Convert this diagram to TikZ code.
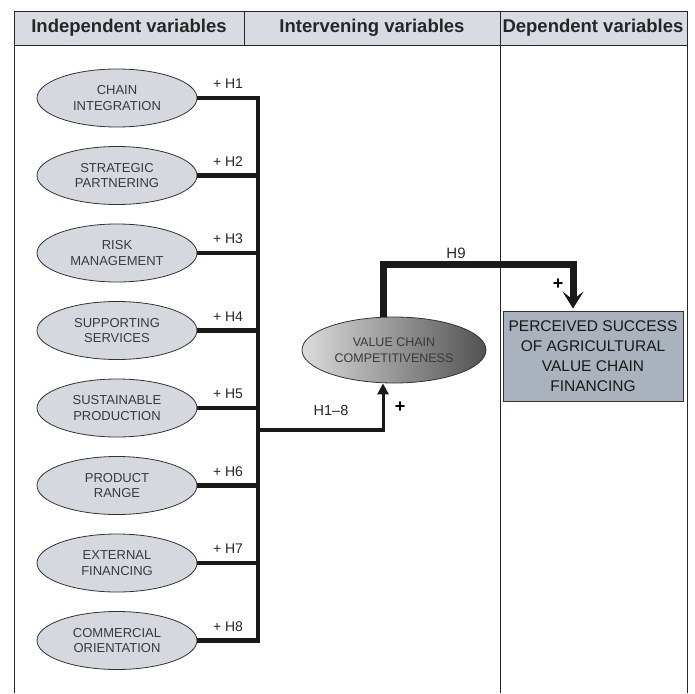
\documentclass[tikz,border=0pt]{standalone}
\usepackage{fontspec}
\setmainfont{Liberation Sans}
\usetikzlibrary{shapes.geometric,arrows.meta}
\definecolor{headgray}{HTML}{D8DBE2}
\definecolor{ovalgray}{HTML}{D5D8DF}
\definecolor{boxgray}{HTML}{A9B2BD}
\definecolor{inkgray}{HTML}{3A3A3A}
\tikzset{
  rule/.style={line width=0.9pt,black!85},
  head/.style={font=\fontsize{18.5}{20}\selectfont\bfseries,text=black!85,inner sep=0pt},
  indep/.style={ellipse,draw=black!80,line width=0.8pt,fill=ovalgray,minimum width=160pt,
    minimum height=58pt,inner sep=0pt,align=center,text=inkgray,font=\fontsize{13}{15.5}\selectfont},
  hyp/.style={font=\fontsize{14}{16}\selectfont,text=black!85,inner sep=0pt},
  plus/.style={font=\fontsize{18}{18}\selectfont\bfseries,inner sep=0pt},
  bus/.style={line width=4.5pt,black!90},
}
\begin{document}
\begin{tikzpicture}[x=1pt,y=-1pt]
  \useasboundingbox (0,0) rectangle (695,693);
  % table frame
  \fill[headgray] (14,11) rectangle (687,45);
  \draw[rule] (14,693) -- (14,11) -- (687,11) -- (687,693);
  \draw[rule] (14,45) -- (687,45);
  \draw[rule] (244,11) -- (244,45);
  \draw[rule] (500,11) -- (500,693);
  \node[head] (hind) at (129,28) {Independent variables};
  \node[head] (hint) at (372,28) {Intervening variables};
  \node[head] (hdep) at (593,28) {Dependent variables};
  % independent variables
  \foreach \txt [count=\i] in {{CHAIN\\INTEGRATION},{STRATEGIC\\PARTNERING},{RISK\\MANAGEMENT},
      {SUPPORTING\\SERVICES},{SUSTAINABLE\\PRODUCTION},{PRODUCT\\RANGE},
      {EXTERNAL\\FINANCING},{COMMERCIAL\\ORIENTATION}} {
    \node[indep] (e\i) at (117,{98+77.5*(\i-1)}) {\txt};
    \node[hyp] (h\i) at (228,{84+77.5*(\i-1)}) {+ H\i};
  }
  \coordinate (bt) at (258,98);
  \coordinate (bb) at (258,640.5);
  \draw[bus] (e1.east) -- (bt) -- (bb) -- (e8.east);
  \foreach \i in {2,...,7}
    \draw[bus] (e\i.east) -- (e\i.east -| bt);
  % intervening and dependent
  \node[ellipse,draw=black!80,line width=0.8pt,left color=black!14,middle color=black!4,right color=black!68,
    minimum width=184pt,minimum height=66pt,inner sep=0pt,align=center,text=inkgray,
    font=\fontsize{12.5}{16}\selectfont] (vcc) at (394,350) {VALUE CHAIN\\COMPETITIVENESS};
  \node[draw=black!80,line width=0.9pt,fill=boxgray,minimum width=180pt,minimum height=90pt,
    inner sep=0pt,align=center,text=black!90,font=\fontsize{15.5}{20}\selectfont] (dep) at (593,356)
    {PERCEIVED SUCCESS\\OF AGRICULTURAL\\VALUE CHAIN\\FINANCING};
  \coordinate (j) at (258,430);
  \coordinate (k) at (383,430);
  \draw[bus] (j) -- (k);
  \draw[line width=3pt,black!90,-{Triangle[length=11pt,width=11pt]}] ([yshift=-2.2pt]k) -- ([xshift=-11pt]vcc.south);
  \node[hyp,font=\fontsize{14.5}{16}\selectfont] (l18) at (331,411) {H1–8};
  \node[plus] (p18) at (400,407) {+};
  \coordinate (t) at (573,264);
  \draw[line width=7pt,black!90,-{Stealth[length=17pt,width=21pt,inset=8pt]},shorten >=2pt]
    ([xshift=-11pt]vcc.north) |- (t) -- ([xshift=-20pt]dep.north);
  \node[hyp,font=\fontsize{15}{16}\selectfont] (l9) at (456,253) {H9};
  \node[plus] (p9) at (558,284) {+};
\end{tikzpicture}
\end{document}
